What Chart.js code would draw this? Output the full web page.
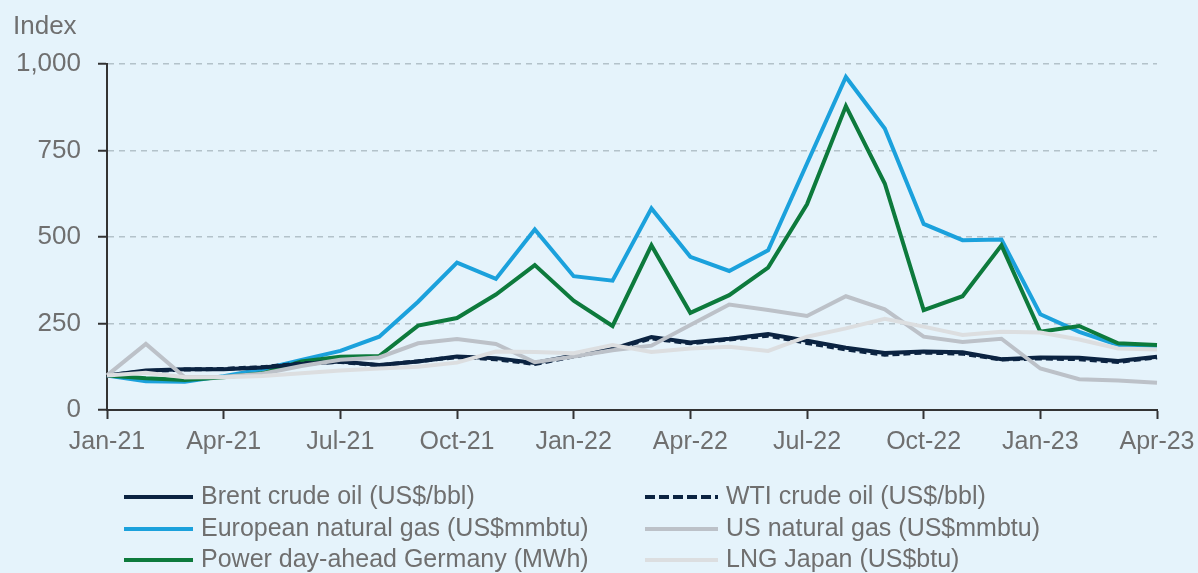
<!DOCTYPE html>
<html>
<head>
<meta charset="utf-8">
<script src="https://cdn.jsdelivr.net/npm/chart.js@4"></script>
<style>
  html, body { margin: 0; padding: 0; background: #e5f3fb; }
  #wrap { width: 1198px; height: 573px; position: relative; }
</style>
</head>
<body>
<div id="wrap"><canvas id="c" width="1198" height="573"></canvas></div>
<script>
const months = ['Jan-21','Feb-21','Mar-21','Apr-21','May-21','Jun-21','Jul-21','Aug-21','Sep-21','Oct-21','Nov-21','Dec-21',
  'Jan-22','Feb-22','Mar-22','Apr-22','May-22','Jun-22','Jul-22','Aug-22','Sep-22','Oct-22','Nov-22','Dec-22',
  'Jan-23','Feb-23','Mar-23','Apr-23'];
const tickLabels = ['Jan-21','Apr-21','Jul-21','Oct-21','Jan-22','Apr-22','Jul-22','Oct-22','Jan-23','Apr-23'];
const yTicks = [0, 250, 500, 750, 1000];

const brent    = [100,114,118,118,123,133,140,130,140,155,150,136,158,177,211,195,206,220,200,180,165,169,167,147,152,151,142,154];
const wti      = [100,112,117,119,124,135,139,129,141,153,147,133,155,175,207,193,204,215,194,175,160,166,163,146,149,147,139,152];
const euroGas  = [100,83,82,98,118,145,171,212,313,426,379,522,387,374,583,443,402,462,713,963,814,538,491,493,277,226,188,186];
const usGas    = [100,191,95,96,105,127,145,152,193,205,191,138,155,173,186,246,305,289,272,329,291,212,197,206,120,89,85,79];
const power    = [100,92,87,95,106,140,154,156,244,266,334,419,316,243,476,281,332,412,595,879,655,289,329,476,226,243,193,188];
const lngJapan = [100,108,95,95,98,106,114,120,125,137,169,168,164,188,168,178,183,171,212,236,264,241,217,226,224,204,178,175];

const seriesNames = ['Brent crude oil (US$/bbl)','WTI crude oil (US$/bbl)','European natural gas (US$mmbtu)',
  'US natural gas (US$mmbtu)','Power day-ahead Germany (MWh)','LNG Japan (US$btu)'];

const TEXT = '#6f6f6f';
const FONT = "'Liberation Sans', Arial, sans-serif";

const legendPlugin = {
  id: 'customLegend',
  afterDraw(chart) {
    const ctx = chart.ctx;
    const ds = chart.data.datasets;
    const rows = [497, 529, 560];
    const cols = [{x0:124, x1:193, tx:201}, {x0:645, x1:718, tx:726}];
    ds.forEach((d, i) => {
      const r = Math.floor(i / 2), c = i % 2;
      const y = rows[r], col = cols[c];
      ctx.save();
      ctx.strokeStyle = d.borderColor;
      ctx.lineWidth = 4;
      ctx.lineCap = 'butt';
      ctx.setLineDash(d.borderDash ? [10, 4] : []);
      ctx.beginPath();
      ctx.moveTo(col.x0, y);
      ctx.lineTo(col.x1, y);
      ctx.stroke();
      ctx.setLineDash([]);
      ctx.fillStyle = TEXT;
      ctx.font = '25px ' + FONT;
      ctx.textBaseline = 'middle';
      ctx.textAlign = 'left';
      ctx.fillText(d.label, col.tx, y);
      ctx.restore();
    });
  }
};

const bgPlugin = {
  id: 'bg',
  beforeDraw(chart) {
    const ctx = chart.ctx;
    ctx.save();
    ctx.fillStyle = '#e5f3fb';
    ctx.fillRect(0, 0, chart.width, chart.height);
    ctx.restore();
  }
};

function mk(label, data, color, order, dash) {
  return {
    label, data, borderColor: color, backgroundColor: color,
    borderWidth: 4, pointRadius: 0, pointHoverRadius: 0, tension: 0,
    fill: false, order, borderDash: dash || undefined, borderCapStyle: 'butt', borderJoinStyle: 'miter'
  };
}

new Chart(document.getElementById('c'), {
  type: 'line',
  data: {
    labels: months,
    datasets: [
      mk(seriesNames[0], brent, '#0b2341', 4),
      mk(seriesNames[1], wti, '#0b2341', 3, [7, 4]),
      mk(seriesNames[2], euroGas, '#1ba1dc', 6),
      mk(seriesNames[3], usGas, '#bcc1c8', 2),
      mk(seriesNames[4], power, '#0d7a3c', 5),
      mk(seriesNames[5], lngJapan, '#dcdee0', 1)
    ]
  },
  options: {
    responsive: false,
    animation: false,
    devicePixelRatio: 1,
    layout: { padding: { left: 13, right: 41, top: 0, bottom: 113 } },
    plugins: {
      legend: { display: false },
      tooltip: { enabled: false },
      title: {
        display: true, text: 'Index', align: 'start', color: TEXT,
        font: { family: FONT, size: 26, weight: 'normal' },
        padding: { top: 11, bottom: 22 }
      }
    },
    scales: {
      x: {
        type: 'category',
        offset: false,
        afterFit(scale) { scale.height = 50; scale.paddingRight = 0; scale.paddingLeft = 0; },
        grid: {
          drawOnChartArea: false, drawTicks: true, tickLength: 9, tickWidth: 2,
          tickColor: (c) => tickLabels.includes(months[c.index]) ? '#333333' : 'rgba(0,0,0,0)'
        },
        border: { display: true, color: '#333333', width: 2 },
        ticks: {
          autoSkip: false, maxRotation: 0, minRotation: 0, padding: 8, color: TEXT,
          font: { family: FONT, size: 25 },
          callback: (v, i) => tickLabels.includes(months[i]) ? months[i] : ''
        }
      },
      y: {
        min: 0, max: 1000,
        afterFit(scale) { scale.width = 94; },
        afterBuildTicks(scale) { scale.ticks = yTicks.map(v => ({ value: v })); },
        grid: {
          color: (c) => c.tick && c.tick.value === 0 ? 'rgba(0,0,0,0)' : '#b3c2ca',
          lineWidth: 1.5, tickLength: 9, tickWidth: 2, tickColor: '#333333', tickBorderDash: []
        },
        border: { display: true, color: '#333333', width: 2, dash: [6, 5] },
        ticks: {
          padding: 17, color: TEXT, font: { family: FONT, size: 26 },
          callback: (v) => v.toLocaleString('en-US')
        }
      }
    }
  },
  plugins: [bgPlugin, legendPlugin]
});
</script>
</body>
</html>
